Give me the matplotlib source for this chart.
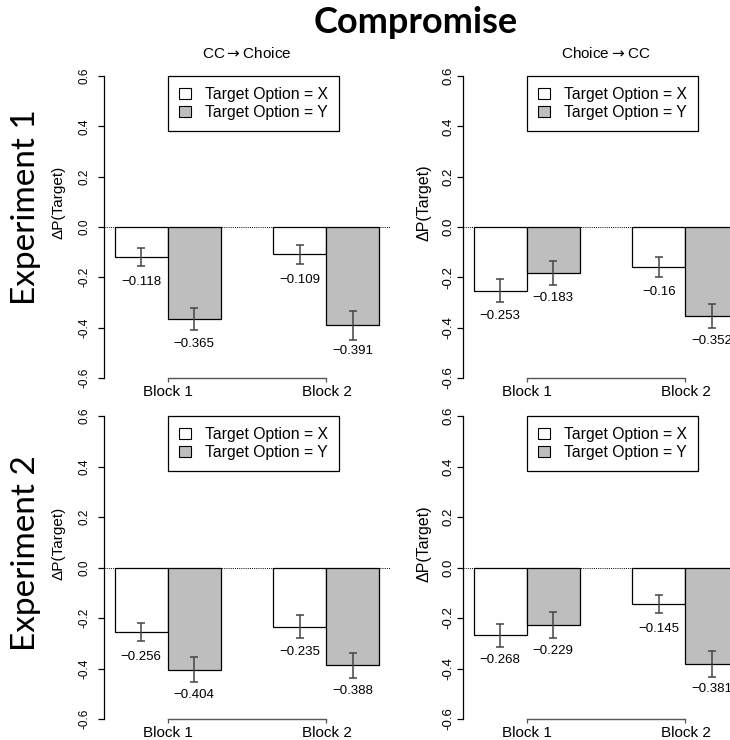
import matplotlib
matplotlib.use("Agg")
import matplotlib.pyplot as plt
from matplotlib.patches import Patch

plt.rcParams['font.family'] = ['Liberation Sans', 'DejaVu Sans']

# data
blocks = ["Block 1", "Block 2"]
options = ["Target Option = X", "Target Option = Y"]
panel_titles = ["CC$\\rightarrow$Choice", "Choice$\\rightarrow$CC"]
row_titles = ["Experiment 1", "Experiment 2"]

# [block1, block2] for each target option
exp1_cc_choice_x = [-0.118, -0.109]
exp1_cc_choice_y = [-0.365, -0.391]
exp1_choice_cc_x = [-0.253, -0.160]
exp1_choice_cc_y = [-0.183, -0.352]
exp2_cc_choice_x = [-0.256, -0.235]
exp2_cc_choice_y = [-0.404, -0.388]
exp2_choice_cc_x = [-0.268, -0.145]
exp2_choice_cc_y = [-0.229, -0.381]

# standard errors (estimated from error bar lengths)
exp1_cc_choice_x_err = [0.035, 0.038]
exp1_cc_choice_y_err = [0.045, 0.059]
exp1_choice_cc_x_err = [0.045, 0.040]
exp1_choice_cc_y_err = [0.046, 0.048]
exp2_cc_choice_x_err = [0.037, 0.045]
exp2_cc_choice_y_err = [0.050, 0.049]
exp2_choice_cc_x_err = [0.046, 0.036]
exp2_choice_cc_y_err = [0.052, 0.052]

panels = {
    (0, 0): (exp1_cc_choice_x, exp1_cc_choice_y, exp1_cc_choice_x_err, exp1_cc_choice_y_err),
    (0, 1): (exp1_choice_cc_x, exp1_choice_cc_y, exp1_choice_cc_x_err, exp1_choice_cc_y_err),
    (1, 0): (exp2_cc_choice_x, exp2_cc_choice_y, exp2_cc_choice_x_err, exp2_cc_choice_y_err),
    (1, 1): (exp2_choice_cc_x, exp2_choice_cc_y, exp2_choice_cc_x_err, exp2_choice_cc_y_err),
}

yticks = [-0.6, -0.4, -0.2, 0.0, 0.2, 0.4, 0.6]
ytick_labels = ["-0.6", "-0.4", "-0.2", "0.0", "0.2", "0.4", "0.6"]


def fmt(v):
    # R style label, trailing zeros dropped, unicode minus
    return ("%g" % v).replace("-", "\u2212")


W, H = 730, 740
fig = plt.figure(figsize=(W / 100, H / 100), dpi=100)

# pixel extents of each plot region
col_x = [(104, 390), (463, 749)]
row_y = [(76, 378), (416, 719)]

x_pos = [1.5, 4.5]
y_pos = [2.5, 5.5]
gray = "#BEBEBE"

for (r, c), (xv, yv, xe, ye) in panels.items():
    l, rr = col_x[c]
    t, b = row_y[r]
    ax = fig.add_axes([l / W, 1 - b / H, (rr - l) / W, (b - t) / H])
    ax.set_xlim(0.8, 6.2)
    ax.set_ylim(-0.6, 0.6)
    ax.patch.set_alpha(0)

    ax.axhline(0, color="black", ls=(0, (1, 1.2)), lw=0.7, zorder=1)
    ax.bar(x_pos, xv, width=1, color="white", edgecolor="black", lw=0.9, zorder=2)
    ax.bar(y_pos, yv, width=1, color=gray, edgecolor="black", lw=0.9, zorder=2)
    ax.errorbar(x_pos, xv, yerr=xe, fmt="none", ecolor="#444444", elinewidth=1.1,
                capsize=2.6, capthick=1.1, zorder=3)
    ax.errorbar(y_pos, yv, yerr=ye, fmt="none", ecolor="#444444", elinewidth=1.1,
                capsize=2.6, capthick=1.1, zorder=3)

    for i in range(2):
        ax.text(x_pos[i], xv[i] - 0.1, fmt(xv[i]), ha="center", va="center", fontsize=9.5)
        ax.text(y_pos[i], yv[i] - 0.1, fmt(yv[i]), ha="center", va="center", fontsize=9.5)

    for s in ["top", "right"]:
        ax.spines[s].set_visible(False)
    ax.spines["left"].set_bounds(-0.6, 0.6)
    ax.spines["left"].set_linewidth(0.9)
    ax.spines["bottom"].set_bounds(2, 5)
    ax.spines["bottom"].set_color("#555555")
    ax.spines["bottom"].set_linewidth(1.0)

    ax.set_xticks([2, 5])
    ax.set_xticklabels(blocks, fontsize=11)
    ax.tick_params(axis="x", length=3, width=0.9, color="#555555", pad=2)

    ax.set_yticks(yticks)
    ax.set_yticklabels(ytick_labels, rotation=90, va="center", fontsize=8.5 if c == 0 else 9.5)
    ax.tick_params(axis="y", length=4, width=0.9, pad=6 if c == 0 else 2)

    ax.set_ylabel("\u0394P(Target)", fontsize=11 if c == 0 else 11.5)
    ax.yaxis.set_label_coords(((66 if c == 0 else 432) - l) / (rr - l), 0.58)

    leg = ax.legend(handles=[Patch(facecolor="white", edgecolor="black", lw=0.8),
                             Patch(facecolor=gray, edgecolor="black", lw=0.8)],
                    labels=options, loc="upper left", bbox_to_anchor=(2.01, 0.6),
                    bbox_transform=ax.transData, fontsize=11.3, frameon=True,
                    fancybox=False, edgecolor="black", framealpha=1,
                    handlelength=0.75, handleheight=0.75, handletextpad=0.9,
                    borderpad=0.7, labelspacing=0.2, borderaxespad=0)
    leg.get_frame().set_linewidth(0.9)

    if r == 0:
        fig.text(((l + rr) / 2) / W, 1 - 54 / H, panel_titles[c], ha="center", va="center",
                 fontsize=11)

for r in range(2):
    cy = [207, 553][r]
    fig.text(26 / W, 1 - cy / H, row_titles[r], rotation=90, ha="center", va="center",
             fontsize=24, family=["Lato", "DejaVu Sans"])

fig.text(416 / W, 1 - 33 / H, "Compromise", ha="center", va="baseline", fontsize=26,
         fontweight="bold", family=["Lato", "DejaVu Sans"])

fig.savefig("out.png", dpi=100)
